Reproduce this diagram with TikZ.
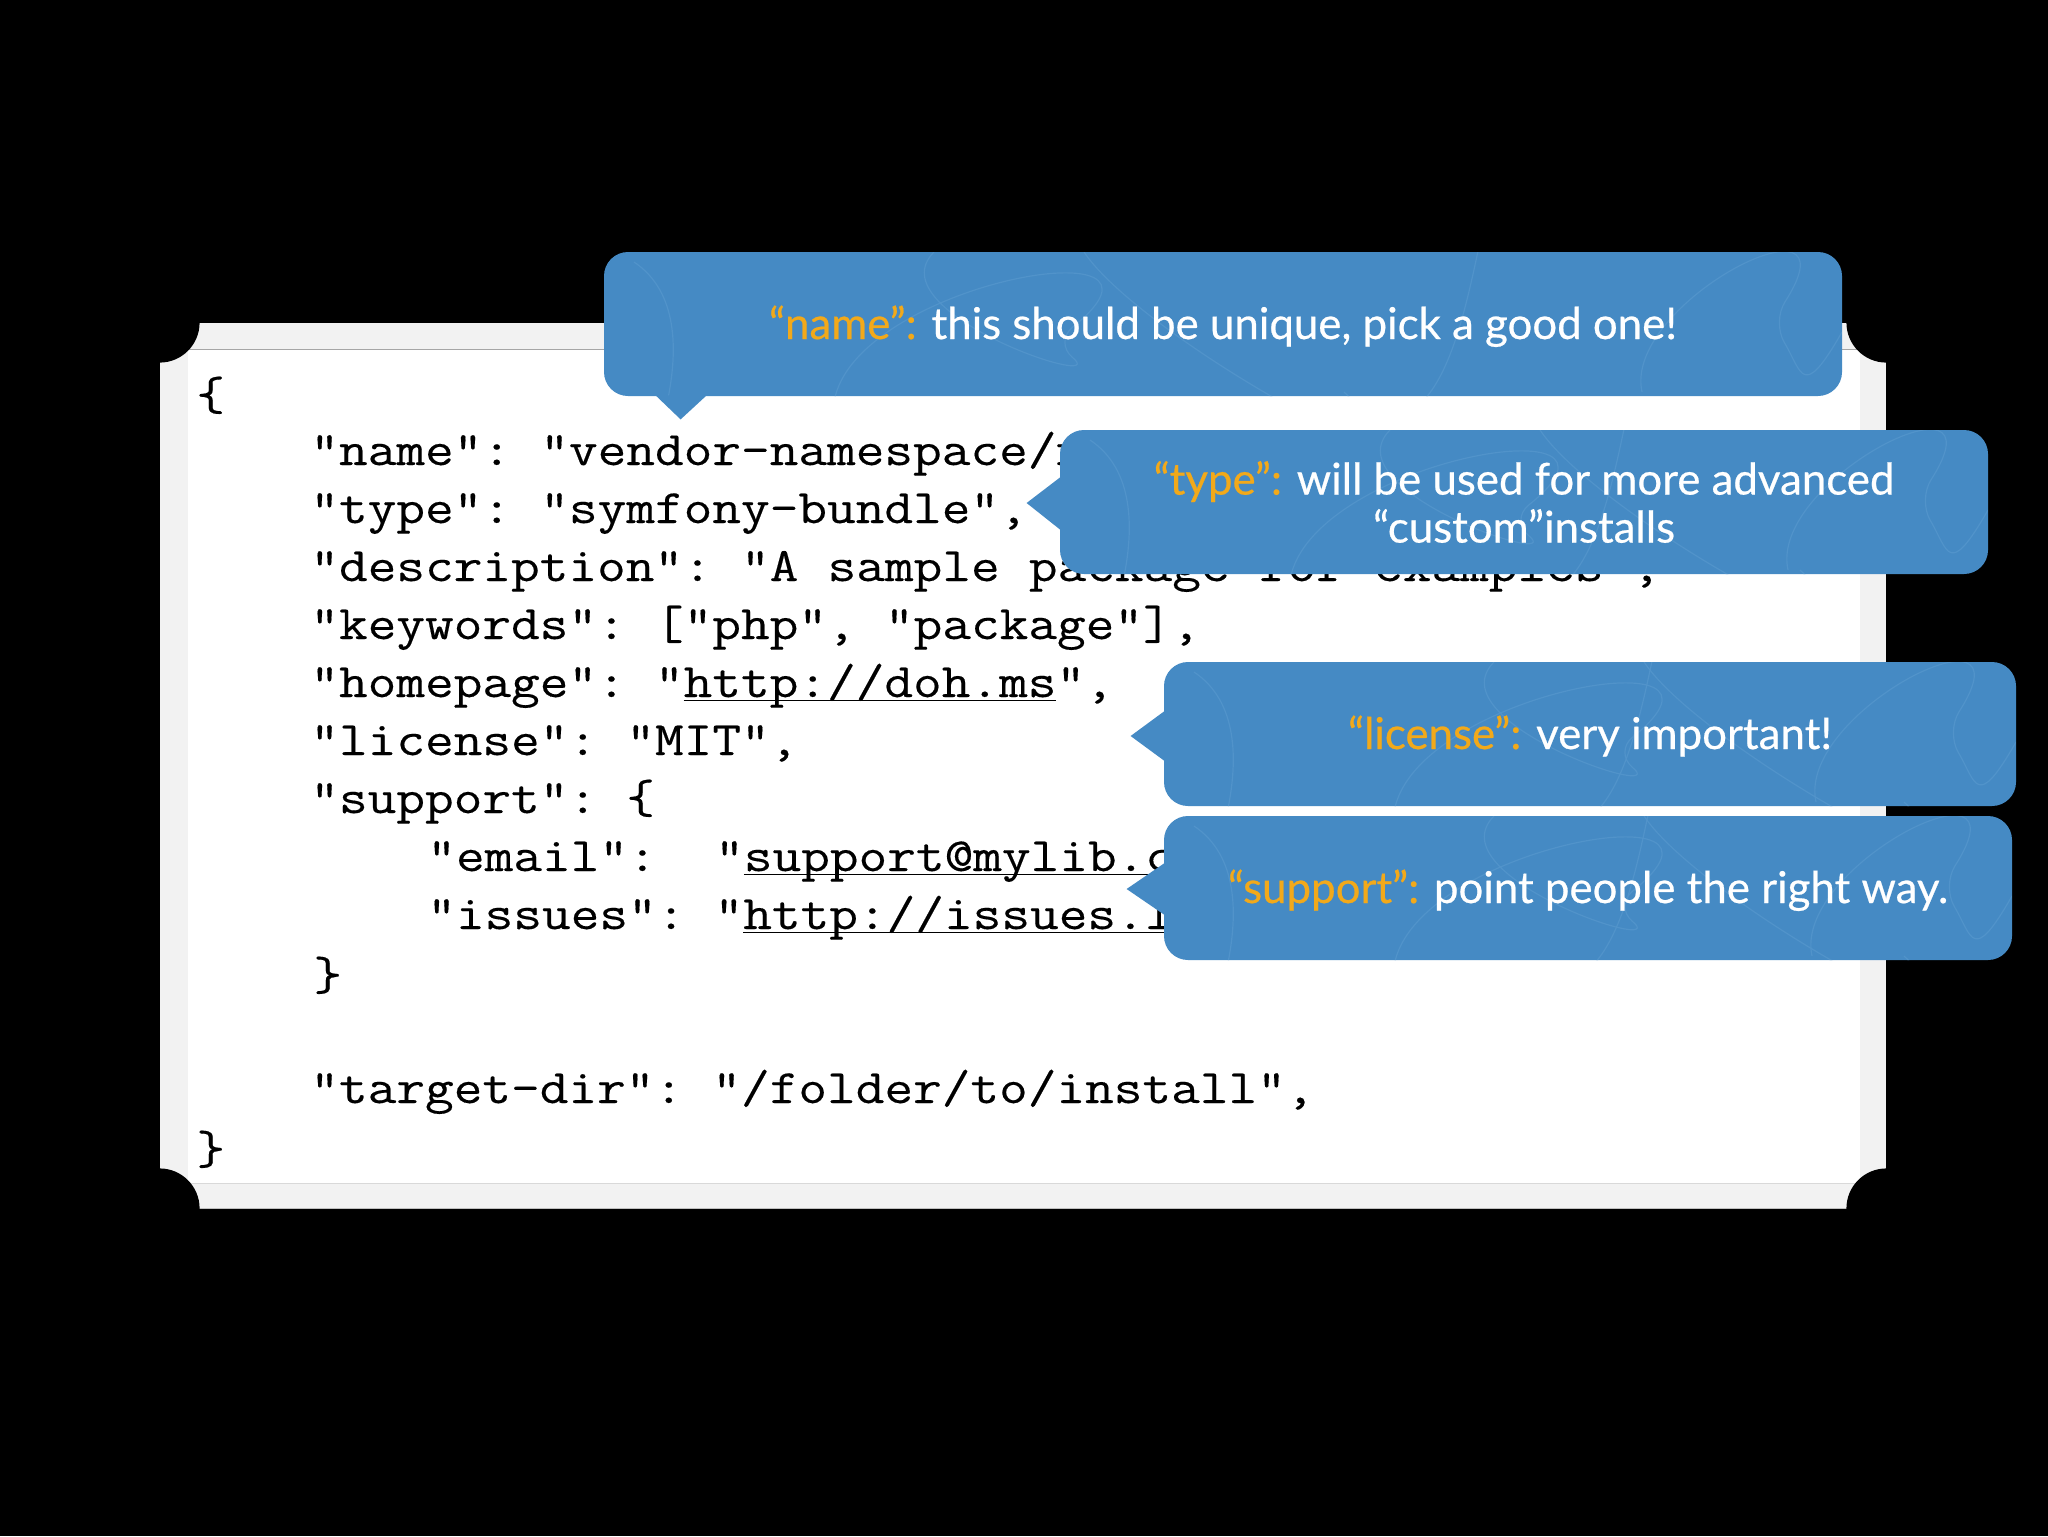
\documentclass[tikz,border=0pt]{standalone}
\usepackage{fontspec}
\setmonofont{Latin Modern Mono}[FakeStretch=1.16,FakeBold=0.3]
\newfontfamily\bubblefont{Lato}[FakeBold=0.5]
\usetikzlibrary{calc,positioning}
\definecolor{bubbleblue}{HTML}{458AC4}
\definecolor{scribbleblue}{HTML}{5193CA}
\definecolor{keyorange}{HTML}{F2A91A}
\definecolor{framegray}{HTML}{F2F2F2}
\newcommand{\keyword}[1]{\textcolor{keyorange}{#1}}
\newcommand{\linktext}[1]{\setbox0\hbox{#1}\rlap{\rule[-2.2pt]{\wd0}{0.9pt}}\box0}
\newcommand{\codegap}[1]{\hspace*{#1\dimexpr 14.62pt\relax}}
\newcommand{\bubblescribble}{
    \draw[scribble] ([shift={(30,10)}]path picture bounding box.north west) .. controls +(90,60) and +(-50,90) .. +(40,150);
    \draw[scribble] ([shift={(230,150)}]path picture bounding box.north west) .. controls +(20,-120) and +(150,-120) .. +(220,-60) .. controls +(60,50) and +(-60,60) .. +(100,-150);
    \draw[scribble] ([shift={(480,0)}]path picture bounding box.north west) .. controls +(60,90) and +(150,140) .. +(260,140);
    \draw[scribble] ([shift={(-200,140)}]path picture bounding box.north east) .. controls +(-20,-90) and +(90,-140) .. +(130,-70) .. controls +(30,50) and +(-40,70) .. +(200,-60);
    \draw[scribble] ([shift={(-420,150)}]path picture bounding box.north east) .. controls +(60,-60) and +(-20,-130) .. +(80,-150);
}
\tikzset{
    scribble/.style = {scribbleblue, line width=0.6pt},
    framebox/.style = {fill=framegray, inner sep=0pt, minimum width=863pt, minimum height=442.5pt},
    pagebox/.style = {fill=white, inner sep=0pt, minimum width=836pt, minimum height=416.5pt},
    codeline/.style = {font=\ttfamily\fontsize{24}{24}\selectfont, black, inner sep=0pt, text width=800pt, align=left, text height=17pt, text depth=5pt},
    bubble/.style = {fill=bubbleblue, rounded corners=12pt, inner sep=0pt, minimum height=72pt, text=white, align=center,
        font=\bubblefont\fontsize{21.9}{24}\selectfont, path picture={\bubblescribble}},
    oneline/.style = {text height=20pt, text depth=5pt},
    bubbletip/.style = {fill=bubbleblue},
}
\begin{document}
\begin{tikzpicture}[x=0.5pt,y=-0.5pt,node distance=29pt,on grid]
    \useasboundingbox (0,0) rectangle (2048,1536);
    \fill[black] (0,0) rectangle (2048,1536);

    % sheet behind the code
    \node[framebox] (frame) at (1023,765.5) {};
    \node[pagebox] (page) at (1024,766.5) {};
    \draw[gray!70, line width=0.8pt] (page.north west) -- (page.north east);
    \draw[gray!30, line width=0.8pt] (page.south west) -- (page.south east);
    \draw[gray!50, line width=0.8pt] (frame.south west) -- (frame.south east);
    \fill[black] (frame.north west) circle (40);
    \fill[black] (frame.north east) circle (40);
    \fill[black] (frame.south west) circle (40);
    \fill[black] (frame.south east) circle (40);

    % code
    \node[codeline, anchor=base west] (open) at (193,407) {\hspace*{1.5pt}\raisebox{-1.5pt}{\{}};
    \node[codeline, below=of open] (name) {\codegap{4}"name":\codegap{1}"vendor-namespace/n};
    \node[codeline, below=of name] (type) {\codegap{4}"type":\codegap{1}"symfony-bundle",};
    \node[codeline, below=of type] (description) {\codegap{4}"description":\codegap{1}"A\codegap{1}sample\codegap{1}package\codegap{1}for\codegap{1}examples",};
    \node[codeline, below=of description] (keywords) {\codegap{4}"keywords":\codegap{1}["php",\codegap{1}"package"],};
    \node[codeline, below=of keywords] (homepage) {\codegap{4}"homepage":\codegap{1}"\linktext{http://doh.ms}",};
    \node[codeline, below=of homepage] (license) {\codegap{4}"license":\codegap{1}"MIT",};
    \node[codeline, below=of license] (support) {\codegap{4}"support":\codegap{1}\{};
    \node[codeline, below=of support] (email) {\codegap{8}"email":\codegap{2}"\linktext{support@mylib.c}};
    \node[codeline, below=of email] (issues) {\codegap{8}"issues":\codegap{1}"\linktext{http://issues.l}};
    \node[codeline, below=of issues] (supportend) {\codegap{4}\hspace*{1.5pt}\raisebox{-1.5pt}{\}}};
    \node[codeline, below=58pt of supportend] (targetdir) {\codegap{4}"target-dir":\codegap{1}"/folder/to/install",};
    \node[codeline, below=of targetdir] (close) {\hspace*{1.5pt}\raisebox{-1.5pt}{\}}};

    % bubbles
    \node[bubble, oneline, minimum width=619pt] (bubblename) at (1223,324) {\keyword{“name”:} this should be unique, pick a good one!};
    \fill[bubbletip] ($(bubblename.south west)+(52,-1)$) -- ($(bubblename.south west)+(77,23)$) -- ($(bubblename.south west)+(103,-1)$) -- cycle;

    \node[bubble, minimum width=464pt] (bubbletype) at (1524,502) {\keyword{“type”:} will be used for more advanced\\“custom”installs};
    \fill[bubbletip] ($(bubbletype.west)+(1,-25)$) -- ($(bubbletype.west)+(-33,1)$) -- ($(bubbletype.west)+(1,28)$) -- cycle;

    \node[bubble, oneline, minimum width=426pt] (bubblelicense) at (1590,734) {\keyword{“license”:} very important!};
    \fill[bubbletip] ($(bubblelicense.west)+(1,-23)$) -- ($(bubblelicense.west)+(-33,2)$) -- ($(bubblelicense.west)+(1,27)$) -- cycle;

    \node[bubble, oneline, minimum width=424pt] (bubblesupport) at (1588,888) {\keyword{“support”:} point people the right way.};
    \fill[bubbletip] ($(bubblesupport.west)+(1,-25)$) -- ($(bubblesupport.west)+(-37,1)$) -- ($(bubblesupport.west)+(1,27)$) -- cycle;
\end{tikzpicture}
\end{document}
